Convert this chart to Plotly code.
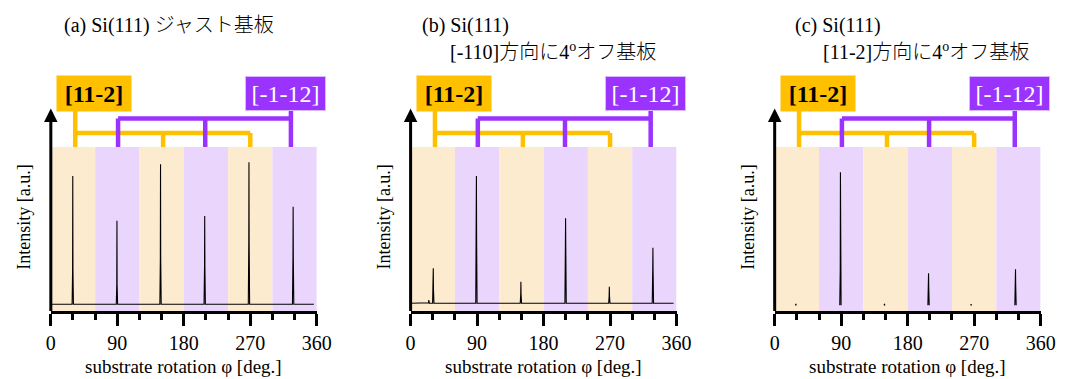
import plotly.graph_objects as go

W, H = 1073, 379

# ---------------- data ----------------
panel_titles_line1 = ["(a) Si(111) ジャスト基板", "(b) Si(111)", "(c) Si(111)"]
panel_titles_line2 = ["", "[-110]方向に4<sup>o</sup>オフ基板", "[11-2]方向に4<sup>o</sup>オフ基板"]

x_ticks = [0, 90, 180, 270, 360]
band_edges = [0, 60, 120, 180, 240, 300, 360]
band_kinds = ["o", "p", "o", "p", "o", "p"]

bracket_orange = [33, 152, 270]   # [11-2]
bracket_purple = [91, 209, 325]   # [-1-12]
label_orange = "[11-2]"
label_purple = "[-1-12]"

# panel (a)
a_peak_pos = [29.7, 89.5, 148.5, 208.3, 268.2, 328.0]
a_peak_h = [0.823, 0.551, 0.895, 0.579, 0.907, 0.636]
a_peak_sh = [0.25, 0.16, 0.32, 0.27, 0.42, 0.33]
a_base = 0.041

# panel (b)
b_peak_pos = [24.6, 30.7, 89.1, 149.3, 209.8, 269.0, 328.0]
b_peak_h = [0.067, 0.260, 0.823, 0.179, 0.565, 0.148, 0.386]
b_peak_sh = [0.05, 0.14, 0.45, 0.10, 0.40, 0.09, 0.25]
b_base = 0.047

# panel (c): no baseline recorded, only peaks
c_peak_pos = [28.7, 89.0, 148.7, 208.3, 266.0, 326.0]
c_peak_h = [0.040, 0.846, 0.040, 0.230, 0.040, 0.254]
c_peak_sh = [0.037, 0.25, 0.037, 0.14, 0.037, 0.16]
c_base = 0.035

ORANGE = "#FFC000"
PURPLE = "#9B33FF"
BAND_O = "#FDEBD0"
BAND_P = "#EAD6FC"

FONT = "Liberation Serif, Noto Sans CJK JP, serif"

# panel geometry (pixels)
x0_px = [46.7, 413.3, 784.3]
plot_w_px = 271.0
y_bot_px, y_top_px = 311.0, 147.0


def px(p):
    return p / W


def py(p):
    return (H - p) / H


def peak_trace(pos, h, sh, base, with_base):
    xs, ys = [], []
    if with_base:
        xs.append(0.5)
        ys.append(base)
    for c, hh, s in zip(pos, h, sh):
        seg_x = [c - 0.9, c - 0.25, c, c + 0.25, c + 0.9]
        seg_y = [base, s, hh, s, base]
        xs += seg_x
        ys += seg_y
        if not with_base:
            xs.append(None)
            ys.append(None)
    if with_base:
        xs.append(356)
        ys.append(base)
    return xs, ys


fig = go.Figure()
series = [
    (a_peak_pos, a_peak_h, a_peak_sh, a_base, True),
    (b_peak_pos, b_peak_h, b_peak_sh, b_base, True),
    (c_peak_pos, c_peak_h, c_peak_sh, c_base, False),
]

shapes = []
annotations = []
layout_axes = {}

for i, (pos, h, sh, base, wb) in enumerate(series):
    n = "" if i == 0 else str(i + 1)
    xa, ya = "x" + n, "y" + n
    xs, ys = peak_trace(pos, h, sh, base, wb)
    fig.add_trace(go.Scatter(x=xs, y=ys, mode="lines", xaxis=xa, yaxis=ya,
                             line=dict(color="black", width=1.1),
                             showlegend=False, hoverinfo="skip", connectgaps=False))

    x0 = x0_px[i]
    layout_axes["xaxis" + n] = dict(
        domain=[px(x0), px(x0 + plot_w_px)], anchor=ya, range=[0, 360],
        tickmode="linear", tick0=0, dtick=90,
        ticks="outside", ticklen=12, tickwidth=3, tickcolor="black",
        showline=True, linewidth=3, linecolor="black",
        showgrid=False, zeroline=False,
        tickfont=dict(family=FONT, size=20, color="black"),
        minor=dict(dtick=30, tick0=0, ticks="outside", ticklen=6, tickwidth=3,
                   tickcolor="black", showgrid=False),
    )
    layout_axes["yaxis" + n] = dict(
        domain=[py(y_bot_px), py(y_top_px)], anchor=xa, range=[0, 1],
        showline=False, showticklabels=False, ticks="", showgrid=False, zeroline=False,
    )

    # background bands
    for k in range(len(band_kinds)):
        shapes.append(dict(type="rect", xref=xa, yref=ya,
                           x0=band_edges[k], x1=band_edges[k + 1], y0=0, y1=1,
                           fillcolor=BAND_O if band_kinds[k] == "o" else BAND_P,
                           line=dict(width=0), layer="below"))

    # orange bracket
    ly_o, ly_p = py(133), py(118.5)
    yb_top, y_box_bot = py(147), py(111)
    lw = 4.5
    shapes.append(dict(type="line", xref=xa, yref="paper", x0=bracket_orange[0], x1=bracket_orange[-1],
                       y0=ly_o, y1=ly_o, line=dict(color=ORANGE, width=lw)))
    shapes.append(dict(type="line", xref=xa, yref="paper", x0=bracket_orange[0], x1=bracket_orange[0],
                       y0=yb_top, y1=y_box_bot, line=dict(color=ORANGE, width=lw)))
    for xv in bracket_orange[1:]:
        shapes.append(dict(type="line", xref=xa, yref="paper", x0=xv, x1=xv,
                           y0=yb_top, y1=ly_o, line=dict(color=ORANGE, width=lw)))
    # purple bracket
    shapes.append(dict(type="line", xref=xa, yref="paper", x0=bracket_purple[0], x1=bracket_purple[-1],
                       y0=ly_p, y1=ly_p, line=dict(color=PURPLE, width=lw)))
    shapes.append(dict(type="line", xref=xa, yref="paper", x0=bracket_purple[-1], x1=bracket_purple[-1],
                       y0=yb_top, y1=y_box_bot, line=dict(color=PURPLE, width=lw)))
    for xv in bracket_purple[:-1]:
        shapes.append(dict(type="line", xref=xa, yref="paper", x0=xv, x1=xv,
                           y0=yb_top, y1=ly_p, line=dict(color=PURPLE, width=lw)))

    # label boxes
    s = 360.0 / plot_w_px
    annotations.append(dict(xref=xa, yref="paper", x=44.3 * s, y=py(93.5),
                            xanchor="center", yanchor="middle", showarrow=False,
                            text="<b>" + label_orange + "</b>", bgcolor=ORANGE,
                            width=74, height=35, borderpad=0,
                            font=dict(family=FONT, size=24, color="black")))
    annotations.append(dict(xref=xa, yref="paper", x=239.0 * s, y=py(93.5),
                            xanchor="center", yanchor="middle", showarrow=False,
                            text=label_purple, bgcolor=PURPLE, bordercolor="#D9B8FF", borderwidth=1,
                            width=79, height=33, borderpad=0,
                            font=dict(family=FONT, size=24, color="white")))

    # y axis arrow
    annotations.append(dict(xref=xa, yref="paper", x=0, y=py(108.5), ax=0, ay=y_bot_px + 1.5 - 108.5,
                            axref="pixel", ayref="pixel", showarrow=True, text="",
                            arrowhead=2, arrowsize=0.9, arrowwidth=3, arrowcolor="black"))
    # axis titles
    annotations.append(dict(xref="paper", yref="paper", x=px(x0 - 27), y=py(217.5),
                            xanchor="center", yanchor="middle", showarrow=False, textangle=-90,
                            text="Intensity [a.u.]", font=dict(family=FONT, size=18, color="black")))
    annotations.append(dict(xref="paper", yref="paper", x=px(x0 + plot_w_px / 2), y=py(366),
                            xanchor="center", yanchor="middle", showarrow=False,
                            text="substrate rotation φ [deg.]", font=dict(family=FONT, size=19, color="black")))

# panel titles
title1_x = [58, 423.3, 803.3]
title2_x = [None, 451.7, 831.7]
for i in range(3):
    annotations.append(dict(xref="paper", yref="paper", x=px(title1_x[i]), y=py(26),
                            xanchor="left", yanchor="middle", showarrow=False,
                            text=panel_titles_line1[i],
                            font=dict(family=FONT, size=20, color="black", weight=300)))
    if panel_titles_line2[i]:
        annotations.append(dict(xref="paper", yref="paper", x=px(title2_x[i]), y=py(51),
                                xanchor="left", yanchor="middle", showarrow=False,
                                text=panel_titles_line2[i],
                                font=dict(family=FONT, size=20, color="black", weight=300)))

fig.update_layout(width=W, height=H, margin=dict(l=0, r=0, t=0, b=0),
                  paper_bgcolor="white", plot_bgcolor="white",
                  shapes=shapes, annotations=annotations, **layout_axes)

fig.write_html("out.html", config={"displayModeBar": False},
               post_script="document.body.style.margin='0';document.body.style.overflow='hidden';")
